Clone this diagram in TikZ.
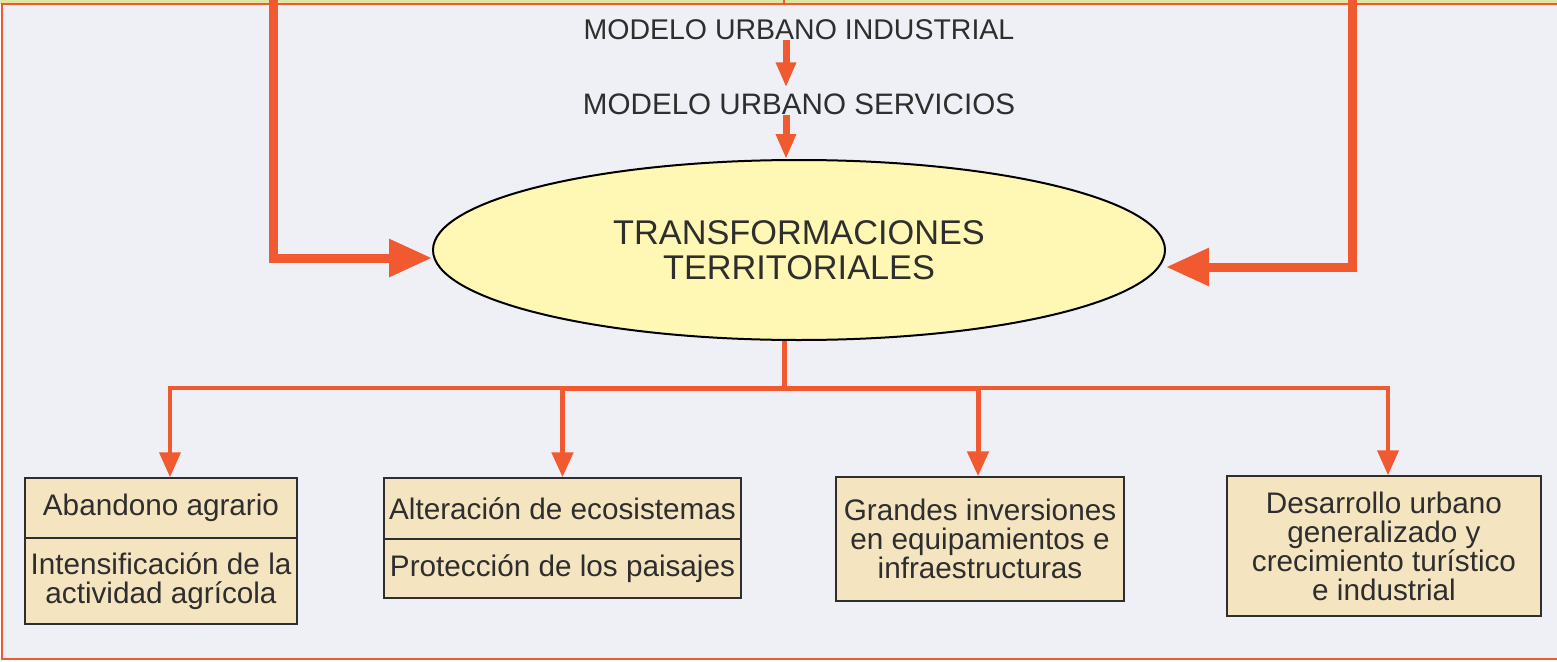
\documentclass[tikz,border=0pt]{standalone}
\usepackage{fontspec}
\setmainfont{Liberation Sans}
\usetikzlibrary{positioning, arrows.meta, shapes.geometric}
\definecolor{tierra}{HTML}{F15A31}
\definecolor{fondo}{HTML}{EFF0F5}
\definecolor{franja}{HTML}{E0E7A2}
\definecolor{yema}{HTML}{FFF7B4}
\definecolor{arena}{HTML}{F5E4C0}
\definecolor{tinta}{HTML}{2E2E2E}

\begin{document}
\begin{tikzpicture}[
    x=1pt, y=-1pt,
    caja/.style={
        draw=tinta, line width=1.5pt, fill=arena,
        inner sep=0pt, align=center, text=tinta,
        font=\fontsize{29.7}{29}\selectfont
    },
    modelo/.style={inner sep=0pt, text=tinta, font=\fontsize{28.5}{29}\selectfont},
    grueso/.style={line width=9pt, tierra, -{Triangle[length=43pt, width=36pt]}},
    medio/.style={line width=7pt, tierra, -{Triangle[length=25pt, width=19pt]}},
    rama/.style={line width=5pt, tierra},
    bajada/.style={line width=5pt, tierra, -{Triangle[length=25pt, width=21pt]}},
]
\useasboundingbox (0,0) rectangle (1557,661);

% Frame and background
\fill[franja] (0,0) rectangle (1557,4);
\filldraw[fill=fondo, draw=tierra, line width=1.5pt] (2,4) rectangle (1575,659);

% Urban models (top, x = 799)
\node[modelo] (industrial) at (799,30) {MODELO URBANO INDUSTRIAL};
\node[modelo, font=\fontsize{29.6}{29}\selectfont] (servicios) at (799,104) {MODELO URBANO SERVICIOS};

% Central ellipse
\node[ellipse, draw=black, line width=2pt, fill=yema, minimum width=732pt, minimum height=180pt,
      inner sep=0pt, align=center, text=tinta, font=\fontsize{34.3}{35}\selectfont]
      (trans) at (799,250) {TRANSFORMACIONES\\TERRITORIALES};

% Bottom row of boxes
\node[caja, minimum width=272pt, minimum height=60pt] (agrario) at (161,508) {Abandono agrario};
\node[caja, minimum width=272pt, minimum height=86pt] (intensif) at (161,581) {Intensificación de la\\actividad agrícola};
\node[caja, minimum width=357pt, minimum height=61pt] (ecosis) at (562.5,508.5) {Alteración de ecosistemas};
\node[caja, minimum width=357pt, minimum height=59pt] (paisajes) at (562.5,568.5) {Protección de los paisajes};
\node[caja, minimum width=288pt, minimum height=124pt] (inversion) at (980,539) {Grandes inversiones\\en equipamientos e\\infraestructuras};
\node[caja, minimum width=314pt, minimum height=140pt] (desarrollo) at (1384,546) {Desarrollo urbano\\generalizado y\\crecimiento turístico\\e industrial};

% Free ends at the top edge
\coordinate (izq) at (273,0);
\coordinate (der) at (1352,0);
\coordinate (arriba) at (784,0);
\coordinate (eje) at (786,0);
\coordinate (hub) at (784,388);

% Top tick and model chain
\draw[tierra, line width=1.5pt] (arriba) -- ++(0,5);
\draw[medio, shorten >=6pt] (industrial.south -| eje) -- (servicios.north -| eje);
\draw[medio] (servicios.south -| eje) -- (trans.north -| eje);

% Side feeds into the ellipse
\draw[grueso] (izq) |- ([yshift=-8pt]trans.west);
\draw[grueso] (der) |- ([yshift=-17pt]trans.east);

% Branches to the boxes
\draw[rama] (trans.south -| hub) -- (hub);
\draw[bajada, line width=4pt] (hub) -| ([xshift=9pt]agrario.north);
\draw[bajada] (hub) -| (ecosis.north);
\draw[bajada] (hub) -| ([xshift=-2pt]inversion.north);
\draw[bajada, line width=4pt] (hub) -| ([xshift=4pt]desarrollo.north);

\end{tikzpicture}
\end{document}
